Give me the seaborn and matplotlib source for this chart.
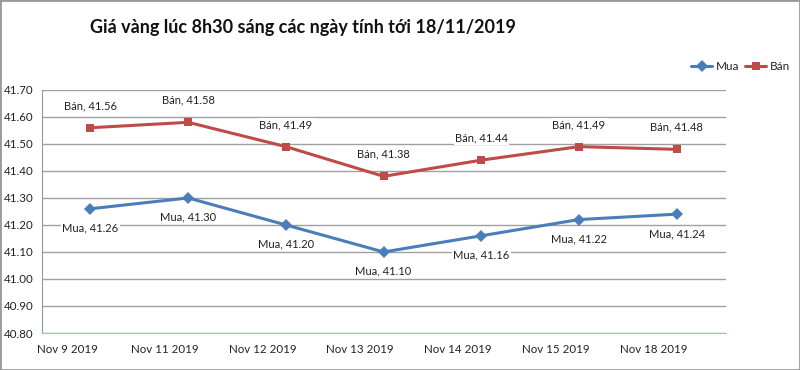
import numpy as np
import pandas as pd
import matplotlib
matplotlib.use("Agg")
import matplotlib.pyplot as plt
import seaborn as sns

dates = ["Nov 9 2019", "Nov 11 2019", "Nov 12 2019", "Nov 13 2019",
         "Nov 14 2019", "Nov 15 2019", "Nov 18 2019"]
mua = [41.26, 41.30, 41.20, 41.10, 41.16, 41.22, 41.24]
ban = [41.56, 41.58, 41.49, 41.38, 41.44, 41.49, 41.48]

BLUE = "#4a7ebb"
RED = "#be4b48"

sns.set_style("white")
plt.rcParams["font.family"] = ["Lato", "DejaVu Sans"]

df = pd.DataFrame({
    "pos": list(range(len(dates))) * 2,
    "value": mua + ban,
    "series": ["Mua"] * len(dates) + ["Bán"] * len(dates),
})

fig = plt.figure(figsize=(8, 3.7), dpi=100)
ax = fig.add_axes([0.052, 0.100, 0.855, 0.657])

sns.lineplot(data=df, x="pos", y="value", hue="series", style="series",
             palette={"Mua": BLUE, "Bán": RED},
             markers={"Mua": "D", "Bán": "s"}, dashes=False,
             markersize=6, linewidth=2.2, markeredgewidth=0, ax=ax)

# data labels
for i, v in enumerate(ban):
    ax.annotate(f"Bán, {v:.2f}", (i, v), xytext=(0, 12), textcoords="offset points",
                ha="center", va="bottom", fontsize=8, color="#222222",
                bbox=dict(boxstyle="square,pad=0.1", fc="white", ec="none"))
for i, v in enumerate(mua):
    ax.annotate(f"Mua, {v:.2f}", (i, v), xytext=(0, -10), textcoords="offset points",
                ha="center", va="top", fontsize=8, color="#222222",
                bbox=dict(boxstyle="square,pad=0.1", fc="white", ec="none"))

ax.set_xlim(-0.5, len(dates) - 0.5)
ax.set_ylim(40.80, 41.70)
ax.set_yticks(np.arange(40.80, 41.701, 0.10))
ax.yaxis.set_major_formatter(matplotlib.ticker.FormatStrFormatter("%.2f"))
ax.yaxis.grid(True, color="#a0a0a0", linewidth=1)
ax.set_axisbelow(True)

# category labels slightly left of each point, tick marks on boundaries
ax.set_xticks(np.arange(len(dates)) - 0.24)
ax.set_xticklabels(dates)
ax.set_xticks(np.arange(len(dates) + 1) - 0.5, minor=True)
ax.tick_params(axis="x", which="major", length=0, labelsize=8.3, pad=8, colors="#222222")
ax.tick_params(axis="x", which="minor", length=4, color="#bbbbbb", direction="out")
ax.tick_params(axis="y", length=4, labelsize=8.3, colors="#222222", pad=2, direction="out")
ax.tick_params(axis="y", color="#999999")

ax.set_xlabel("")
ax.set_ylabel("")
for s in ["top", "right"]:
    ax.spines[s].set_visible(False)
ax.spines["left"].set_color("#999999")
ax.spines["bottom"].set_color("#7fcfd6")

ax.legend(loc="lower right", bbox_to_anchor=(1.11, 1.03), ncol=2, frameon=False,
          fontsize=8.5, handlelength=1.8, handletextpad=0.3, columnspacing=0.5,
          title=None)

fig.text(0.112, 0.925, "Giá vàng lúc 8h30 sáng các ngày tính tới 18/11/2019",
         fontsize=13, fontweight="bold", color="#111111", ha="left", va="center")

# outer frame
fig.patches.append(matplotlib.patches.Rectangle((0, 0), 1, 1, transform=fig.transFigure,
                                                fill=False, ec="#9a9a9a", lw=2))

fig.savefig("out.png", dpi=100)
